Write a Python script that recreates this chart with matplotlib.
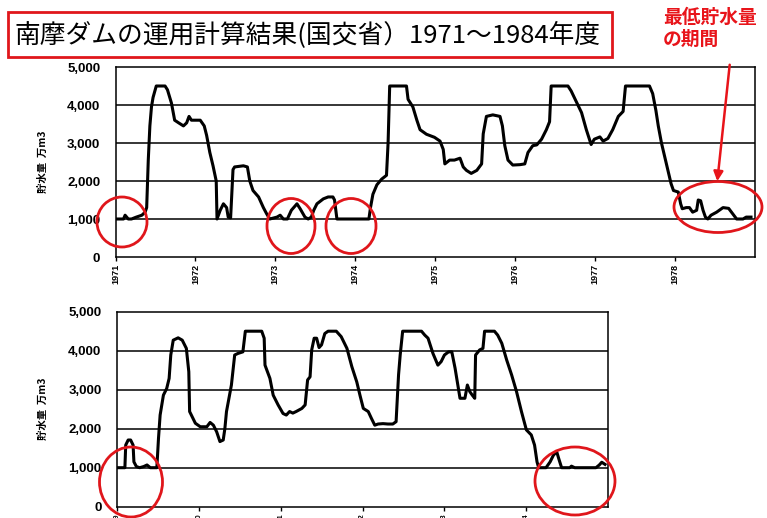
import matplotlib
matplotlib.use("Agg")
import matplotlib.pyplot as plt
from matplotlib.patches import Ellipse, Rectangle

plt.rcParams['font.family'] = ['Noto Sans CJK JP', 'DejaVu Sans']

# 貯水量 (万m3) 1971-1978
top_years = [1971.00, 1971.10, 1971.12, 1971.16, 1971.20, 1971.26, 1971.33, 1971.37, 1971.39, 1971.41,
             1971.43, 1971.45, 1971.47, 1971.51, 1971.62, 1971.65, 1971.70, 1971.74, 1971.79, 1971.85,
             1971.89, 1971.92, 1971.95, 1972.06, 1972.11, 1972.14, 1972.18, 1972.22, 1972.26, 1972.27,
             1972.31, 1972.35, 1972.39, 1972.41, 1972.44, 1972.47, 1972.49, 1972.60, 1972.65, 1972.68,
             1972.72, 1972.79, 1972.85, 1972.89, 1972.93, 1973.02, 1973.06, 1973.10, 1973.15, 1973.20,
             1973.27, 1973.31, 1973.37, 1973.41, 1973.45, 1973.48, 1973.52, 1973.60, 1973.66, 1973.72,
             1973.74, 1973.77, 1973.97, 1974.17, 1974.19, 1974.22, 1974.27, 1974.33, 1974.39, 1974.41,
             1974.43, 1974.64, 1974.66, 1974.72, 1974.77, 1974.81, 1974.89, 1974.99, 1975.06, 1975.10,
             1975.12, 1975.18, 1975.24, 1975.31, 1975.35, 1975.39, 1975.45, 1975.52, 1975.58, 1975.60,
             1975.64, 1975.72, 1975.81, 1975.84, 1975.87, 1975.91, 1975.97, 1976.06, 1976.12, 1976.16,
             1976.22, 1976.27, 1976.33, 1976.39, 1976.43, 1976.45, 1976.66, 1976.70, 1976.77, 1976.83,
             1976.89, 1976.95, 1976.99, 1977.06, 1977.10, 1977.16, 1977.22, 1977.29, 1977.35, 1977.38,
             1977.68, 1977.72, 1977.76, 1977.79, 1977.83, 1977.89, 1977.95, 1977.98, 1978.04, 1978.07,
             1978.09, 1978.14, 1978.18, 1978.22, 1978.27, 1978.29, 1978.32, 1978.35, 1978.38, 1978.41,
             1978.45, 1978.52, 1978.60, 1978.67, 1978.72, 1978.77, 1978.85, 1978.89, 1978.95]
top_storage = [1000, 1000, 1100, 1000, 1000, 1050, 1100, 1180, 1300, 2550,
               3450, 3950, 4200, 4500, 4500, 4400, 4050, 3600, 3530, 3450,
               3530, 3700, 3600, 3600, 3450, 3200, 2750, 2400, 2000, 1000,
               1230, 1400, 1300, 1050, 1030, 2300, 2370, 2400, 2370, 2000,
               1750, 1580, 1300, 1140, 1000, 1050, 1100, 1000, 1000, 1230,
               1400, 1270, 1050, 1000, 1050, 1230, 1400, 1530, 1580, 1580,
               1500, 1000, 1000, 1000, 1300, 1650, 1900, 2050, 2150, 3000,
               4500, 4500, 4150, 3950, 3600, 3350, 3230, 3150, 3050, 2830,
               2450, 2550, 2550, 2600, 2370, 2280, 2200, 2280, 2450, 3240,
               3700, 3740, 3700, 3450, 2930, 2550, 2420, 2430, 2450, 2750,
               2930, 2950, 3100, 3350, 3560, 4500, 4500, 4370, 4060, 3800,
               3350, 2960, 3100, 3160, 3050, 3120, 3350, 3700, 3830, 4500,
               4500, 4300, 3860, 3450, 3000, 2460, 1930, 1750, 1710, 1400,
               1270, 1300, 1300, 1180, 1230, 1500, 1480, 1230, 1050, 1000,
               1100, 1180, 1300, 1280, 1140, 1000, 1000, 1050, 1050]

# 貯水量 (万m3) 1979-1984
bot_years = [1979.00, 1979.10, 1979.11, 1979.14, 1979.17, 1979.20, 1979.21, 1979.24, 1979.28, 1979.33,
             1979.37, 1979.41, 1979.49, 1979.51, 1979.53, 1979.57, 1979.61, 1979.64, 1979.66, 1979.69,
             1979.75, 1979.80, 1979.85, 1979.88, 1979.89, 1979.96, 1980.02, 1980.10, 1980.14, 1980.18,
             1980.22, 1980.26, 1980.30, 1980.32, 1980.34, 1980.37, 1980.40, 1980.44, 1980.48, 1980.54,
             1980.57, 1980.77, 1980.80, 1980.81, 1980.87, 1980.91, 1980.97, 1981.03, 1981.07, 1981.11,
             1981.15, 1981.19, 1981.26, 1981.30, 1981.33, 1981.36, 1981.38, 1981.41, 1981.44, 1981.47,
             1981.50, 1981.54, 1981.58, 1981.68, 1981.74, 1981.81, 1981.87, 1981.93, 1981.97, 1982.01,
             1982.07, 1982.11, 1982.15, 1982.19, 1982.25, 1982.31, 1982.37, 1982.41, 1982.44, 1982.46,
             1982.49, 1982.72, 1982.76, 1982.80, 1982.82, 1982.86, 1982.92, 1982.96, 1983.00, 1983.05,
             1983.09, 1983.13, 1983.17, 1983.19, 1983.25, 1983.28, 1983.31, 1983.34, 1983.37, 1983.38,
             1983.43, 1983.47, 1983.49, 1983.61, 1983.65, 1983.70, 1983.76, 1983.82, 1983.88, 1983.94,
             1984.00, 1984.06, 1984.10, 1984.13, 1984.15, 1984.24, 1984.29, 1984.33, 1984.37, 1984.40,
             1984.43, 1984.53, 1984.55, 1984.59, 1984.69, 1984.85, 1984.89, 1984.92, 1984.96]
bot_storage = [1000, 1000, 1580, 1710, 1710, 1580, 1150, 1030, 1000, 1030,
               1070, 1000, 1000, 1750, 2350, 2860, 3030, 3290, 3890, 4270,
               4330, 4270, 4060, 3460, 2440, 2140, 2050, 2050, 2160, 2090,
               1920, 1670, 1710, 2000, 2440, 2780, 3120, 3890, 3930, 3970,
               4500, 4500, 4320, 3630, 3290, 2860, 2610, 2390, 2350, 2440,
               2400, 2440, 2520, 2610, 3250, 3330, 4020, 4320, 4320, 4080,
               4150, 4440, 4500, 4500, 4360, 4060, 3590, 3200, 2850, 2520,
               2440, 2260, 2090, 2120, 2130, 2120, 2120, 2180, 3380, 3890,
               4500, 4500, 4400, 4320, 4190, 3930, 3630, 3720, 3890, 3970,
               3970, 3550, 3030, 2780, 2780, 3120, 2950, 2860, 2780, 3890,
               4020, 4060, 4500, 4500, 4400, 4190, 3760, 3380, 2950, 2440,
               1970, 1840, 1580, 1150, 1000, 1000, 1150, 1320, 1410, 1200,
               1000, 1000, 1040, 1000, 1000, 1000, 1070, 1140, 1085]

y_ticks = [0, 1000, 2000, 3000, 4000, 5000]
top_ticks = [1971, 1972, 1973, 1974, 1975, 1976, 1977, 1978]
bot_ticks = [1979, 1980, 1981, 1982, 1983, 1984]

title = '南摩ダムの運用計算結果(国交省）1971～1984年度'
note = '最低貯水量\nの期間'
ylab = '貯水量  万m3'

W, H = 767, 518
fig = plt.figure(figsize=(W / 100, H / 100), dpi=100)
ax1 = fig.add_axes([115.5 / W, 1 - 257 / H, 639.5 / W, 190 / H])
ax2 = fig.add_axes([116.7 / W, 1 - 506.7 / H, 491.6 / W, 195 / H])


def style(ax, ticks, xlim, label_x, xsize):
    ax.set_xlim(*xlim)
    ax.set_ylim(0, 5000)
    ax.set_yticks(y_ticks)
    ax.set_yticklabels([f'{v:,}' for v in y_ticks], fontfamily='Liberation Sans',
                       fontweight='bold', fontsize=9.5)
    ax.set_xticks(ticks)
    ax.set_xticklabels([str(t) for t in ticks], rotation=90, fontfamily='Liberation Sans',
                       fontweight='bold', fontsize=xsize)
    ax.tick_params(axis='y', length=0, pad=11)
    ax.tick_params(axis='x', length=3, width=1, pad=2)
    for y in y_ticks[1:-1]:
        ax.axhline(y, color='black', lw=1.1, zorder=1)
    for s in ax.spines.values():
        s.set_linewidth(1.1)
    ax.set_ylabel(ylab, fontsize=7.5, fontweight='bold')
    ax.yaxis.set_label_coords(label_x, 0.5)


ax1.plot(top_years, top_storage, color='black', lw=2.2, zorder=3)
style(ax1, top_ticks, (1971, 1979), -0.105, 6.5)
ax2.plot(bot_years, bot_storage, color='black', lw=2.2, zorder=3)
style(ax2, bot_ticks, (1979, 1985), -0.14, 5)

# overlay in pixel coordinates for title box, circles, note and arrow
ov = fig.add_axes([0, 0, 1, 1], zorder=10)
ov.set_xlim(0, W)
ov.set_ylim(H, 0)
ov.axis('off')
ov.patch.set_alpha(0)

ov.add_patch(Rectangle((8, 12), 604, 45, fill=False, edgecolor='#e0161b', lw=2))
ov.text(14, 35, title, fontsize=18.5, va='center', ha='left', color='black')

ov.text(663, 8, note, fontsize=13.5, fontweight='bold', color='#e8141a',
        va='top', ha='left', linespacing=1.2)
ov.annotate('', xy=(717, 184), xytext=(730, 62),
            arrowprops=dict(arrowstyle='-|>', color='#e8141a', lw=1.8, mutation_scale=14))

circles = [(122, 222, 50, 50), (291, 226, 48, 55), (351, 226, 50, 55),
           (718, 207, 88, 51), (131, 482, 63, 70), (575, 481, 80, 68)]
for cx, cy, w, h in circles:
    ov.add_patch(Ellipse((cx, cy), w, h, fill=False, edgecolor='#e0161b', lw=2))

fig.savefig('out.png', dpi=100, facecolor='white')
